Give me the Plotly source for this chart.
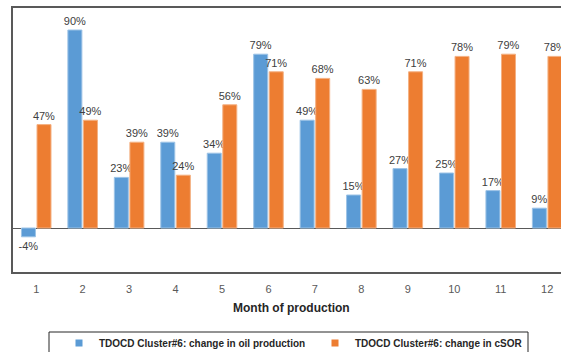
import plotly.graph_objects as go

months = [str(m) for m in range(1, 13)]
oil_change = [-4, 90, 23, 39, 34, 79, 49, 15, 27, 25, 17, 9]
csor_change = [47, 49, 39, 24, 56, 71, 68, 63, 71, 78, 79, 78]

oil_name = "TDOCD Cluster#6: change in oil production"
csor_name = "TDOCD Cluster#6: change in cSOR"

BLUE = "#5B9BD5"
ORANGE = "#ED7D31"
LABEL = "#404040"
FONT = "Liberation Sans"

W, H = 561, 352
L, T, B = 13, 8, 80
plot_h = H - T - B


def px_y(y_px):
    """Convert a pixel row of the figure into paper y."""
    return (H - B - y_px) / plot_h


fig = go.Figure()
for vals, name, color, edge in [
    (oil_change, oil_name, BLUE, "#9CC3E6"),
    (csor_change, csor_name, ORANGE, "#F4B183"),
]:
    fig.add_trace(go.Bar(
        x=months, y=vals, name=name, showlegend=False,
        marker=dict(color=color, line=dict(color=edge, width=1)),
        text=[f"{v}%" for v in vals], texttemplate="%{text}",
        textposition="outside", constraintext="none",
        textfont=dict(family=FONT, size=11, color=LABEL),
        cliponaxis=False,
    ))
    # small square key for the legend
    fig.add_trace(go.Scatter(
        x=[None], y=[None], mode="markers", name=name,
        marker=dict(symbol="square", size=7, color=color),
    ))

fig.update_layout(
    width=W, height=H,
    margin=dict(l=L, r=0, t=T, b=B),
    plot_bgcolor="white", paper_bgcolor="white",
    barmode="group", bargap=0.33, bargroupgap=0.1,
    font=dict(family=FONT, color=LABEL),
    showlegend=True,
    legend=dict(
        orientation="h",
        x=59 / W, xref="container", xanchor="left",
        y=1 - 343 / H, yref="container", yanchor="middle",
        borderwidth=0, bgcolor="rgba(0,0,0,0)",
        font=dict(family=FONT, size=10, color="#262626", weight="bold"),
        entrywidth=211, entrywidthmode="pixels",
        itemwidth=30, traceorder="normal",
    ),
)

fig.update_xaxes(
    type="category", range=[-0.5, 11.298],
    showline=True, linecolor="#595959", linewidth=1.5, mirror=True,
    ticks="", ticklabelstandoff=6,
    tickfont=dict(family=FONT, size=11, color="#595959"),
    showgrid=False, zeroline=False,
)
fig.update_yaxes(
    range=[-20, 100],
    showline=True, linecolor="#595959", linewidth=1.5, mirror=False,
    showticklabels=False, ticks="", showgrid=False,
    zeroline=True, zerolinecolor="#595959", zerolinewidth=1,
)

fig.add_annotation(
    x=5.5, xref="x", y=px_y(308), yref="paper", yanchor="middle",
    text="Month of production", showarrow=False,
    font=dict(family=FONT, size=12, color="#262626", weight="bold"),
)

# legend frame, running past the bottom edge of the figure
fig.add_shape(
    type="rect", xref="paper", yref="paper",
    x0=(49 - L) / (W - L), x1=(528 - L) / (W - L),
    y0=px_y(360), y1=px_y(332),
    line=dict(color="#262626", width=1), fillcolor="rgba(0,0,0,0)",
    layer="below",
)

fig.write_html("out.html")
